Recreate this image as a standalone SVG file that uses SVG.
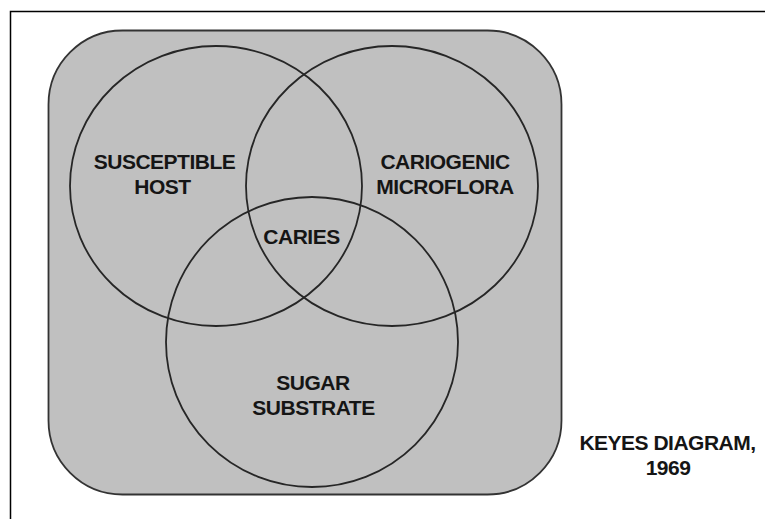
<svg xmlns="http://www.w3.org/2000/svg" width="765" height="519" viewBox="0 0 765 519">
  <style>
    .frame { fill: #ffffff; stroke: #000000; stroke-width: 1.5; }
    .panel { fill: #c0c0c0; stroke: #333333; stroke-width: 1.8; }
    .set { fill: none; stroke: #262626; stroke-width: 1.8; }
    .lbl { font-family: "Liberation Sans", Arial, sans-serif; font-weight: bold; font-size: 21px; letter-spacing: -0.5px; fill: #151515; text-anchor: middle; }
  </style>
  <rect width="765" height="519" fill="#ffffff"/>
  <rect class="frame" x="10.5" y="11.5" width="800" height="600"/>
  <g id="panel">
    <rect class="panel" x="48.5" y="30.5" width="513" height="464" rx="74" ry="74"/>
  </g>
  <g id="host">
    <ellipse class="set" cx="216" cy="186" rx="146" ry="140"/>
    <text class="lbl" x="164.5" y="169">SUSCEPTIBLE</text>
    <text class="lbl" x="162.5" y="194">HOST</text>
  </g>
  <g id="microflora">
    <ellipse class="set" cx="392" cy="186" rx="146" ry="140"/>
    <text class="lbl" x="445" y="169">CARIOGENIC</text>
    <text class="lbl" x="445" y="194">MICROFLORA</text>
  </g>
  <g id="substrate">
    <ellipse class="set" cx="312" cy="342" rx="146" ry="145"/>
    <text class="lbl" x="313" y="389.5">SUGAR</text>
    <text class="lbl" x="313.5" y="415">SUBSTRATE</text>
  </g>
  <g id="caries">
    <text class="lbl" x="301.5" y="244">CARIES</text>
  </g>
  <g id="caption">
    <text class="lbl" x="667.5" y="450">KEYES  DIAGRAM,</text>
    <text class="lbl" x="668" y="475">1969</text>
  </g>
  <g id="connectors"></g>
</svg>
